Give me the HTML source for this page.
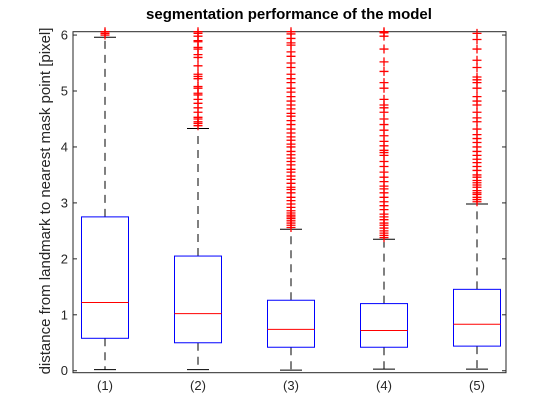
<!DOCTYPE html>
<html><head><meta charset="utf-8"><style>
html,body{margin:0;padding:0;background:#fff;}
svg{display:block;font-family:"Liberation Sans",Arial,sans-serif;}
</style></head><body>
<svg id="chart" width="560" height="420" viewBox="0 0 560 420" xmlns="http://www.w3.org/2000/svg">
<rect x="0" y="0" width="560" height="420" fill="#fff"/>
<text x="289" y="19" text-anchor="middle" font-size="15" font-weight="bold" fill="#000">segmentation performance of the model</text>
<text transform="translate(50,201) rotate(-90)" text-anchor="middle" font-size="15" fill="#262626">distance from landmark to nearest mask point [pixel]</text>
<g id="plot"></g>
</svg>
<script>
const categories = ["(1)","(2)","(3)","(4)","(5)"];
const q1 = [0.58, 0.50, 0.42, 0.42, 0.44];
const medians = [1.22, 1.02, 0.74, 0.72, 0.83];
const q3 = [2.75, 2.05, 1.26, 1.20, 1.455];
const whiskerLow = [0.02, 0.02, 0.01, 0.03, 0.03];
const whiskerHigh = [5.96, 4.33, 2.53, 2.35, 2.98];
const yTicks = [0,1,2,3,4,5,6];
const outliers1 = [6.00, 6.03, 6.06];
const outliers2 = [4.38,4.42,4.45,4.50,4.53,4.62,4.70,4.78,4.85,4.93,4.96,5.05,5.08,5.22,5.26,5.30,5.45,5.60,5.65,5.75,5.78,5.88,5.90,5.98,6.03,6.06];
const outliers3 = [2.56,2.60,2.64,2.68,2.72,2.75,2.78,2.82,2.86,2.92,2.98,3.04,3.10,3.18,3.24,3.28,3.35,3.42,3.48,3.55,3.60,3.68,3.74,3.80,3.86,3.92,4.00,4.05,4.12,4.18,4.25,4.32,4.40,4.47,4.55,4.60,4.68,4.75,4.82,4.90,4.98,5.05,5.15,5.22,5.30,5.42,5.50,5.62,5.70,5.82,5.86,5.94,6.02,6.06];
const outliers4 = [2.38,2.42,2.46,2.50,2.55,2.60,2.64,2.70,2.75,2.80,2.88,2.95,3.02,3.10,3.18,3.25,3.30,3.38,3.46,3.55,3.65,3.74,3.85,3.90,3.94,4.02,4.10,4.20,4.30,4.40,4.50,4.62,4.70,4.75,4.85,5.05,5.15,5.35,5.52,5.75,5.98,6.04,6.06];
const outliers5 = [3.02,3.06,3.10,3.15,3.18,3.22,3.28,3.32,3.36,3.40,3.46,3.50,3.58,3.65,3.72,3.78,3.85,3.92,4.00,4.08,4.15,4.22,4.32,4.45,4.52,4.62,4.75,4.82,4.90,5.05,5.15,5.20,5.25,5.42,5.55,5.75,5.92,6.03];
const outliers = [outliers1, outliers2, outliers3, outliers4, outliers5];

const NS="http://www.w3.org/2000/svg";
const L=73, R=506, T=31.7, B=372.7;
const yMin=-0.035, yMax=6.06;
function yScale(v){return B-(v-yMin)/(yMax-yMin)*(B-T);}
function xScale(i){return 105+i*93;}
const g=document.getElementById('plot');
function mk(tag,attrs,parent){const e=document.createElementNS(NS,tag);for(const k in attrs)e.setAttribute(k,attrs[k]);(parent||g).appendChild(e);return e;}

const ax=mk('rect',{x:L,y:T,width:R-L,height:B-T,fill:'none',stroke:'#262626','stroke-width':1});



yTicks.forEach(t=>{
  const y=yScale(t);
  const a=mk('line',{x1:L,x2:L+4,y1:y,y2:y,stroke:'#262626'});
  
  
  const b=mk('line',{x1:R-4,x2:R,y1:y,y2:y,stroke:'#262626'});
  
  
  const tx=mk('text',{x:L-5,y:y+4.5,'text-anchor':'end','font-size':13,fill:'#262626'});
  tx.textContent=t;
  
  
});

categories.forEach((c,i)=>{
  const cx=xScale(i), hw=23.5, cw=11;
  const grp=mk('g',{});
  
  
  const tl=mk('text',{x:cx,y:390,'text-anchor':'middle','font-size':13,fill:'#262626'});
  tl.textContent=c;
  
  
  const bt=mk('line',{x1:cx,x2:cx,y1:yScale(q1[i]),y2:yScale(whiskerLow[i]),stroke:'#000','stroke-dasharray':'8,6'},grp);
  
  
  const tp=mk('line',{x1:cx,x2:cx,y1:yScale(q3[i]),y2:yScale(whiskerHigh[i]),stroke:'#000','stroke-dasharray':'8,6'},grp);
  
  
  const c1=mk('line',{x1:cx-cw,x2:cx+cw,y1:yScale(whiskerLow[i]),y2:yScale(whiskerLow[i]),stroke:'#000'},grp);
  
  
  const c2=mk('line',{x1:cx-cw,x2:cx+cw,y1:yScale(whiskerHigh[i]),y2:yScale(whiskerHigh[i]),stroke:'#000'},grp);
  
  
  const bx=mk('rect',{x:cx-hw,y:yScale(q3[i]),width:2*hw,height:yScale(q1[i])-yScale(q3[i]),fill:'none',stroke:'#0000ff'},grp);
  
  
  const md=mk('line',{x1:cx-hw,x2:cx+hw,y1:yScale(medians[i]),y2:yScale(medians[i]),stroke:'#ff0000'},grp);
  
  
  outliers[i].forEach(v=>{
    const y=yScale(v);
    if(y<T-2)return;
    const p=mk('path',{d:`M${cx-4.5},${y}H${cx+4.5}M${cx},${y-4.5}V${y+4.5}`,stroke:'#ff0000','stroke-width':1.3},grp);
    
    
  });
});
</script>
</body></html>
